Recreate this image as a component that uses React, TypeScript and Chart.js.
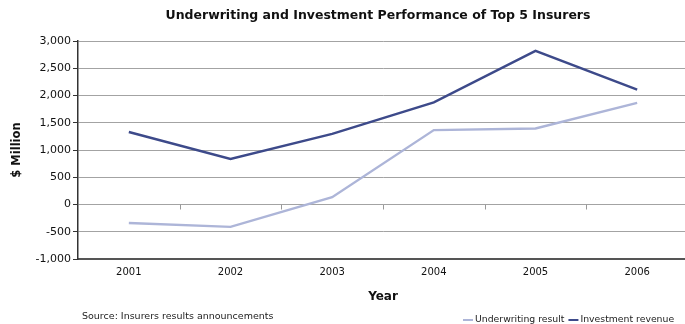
import React, { useEffect, useRef } from 'react';
import { Chart, registerables } from 'chart.js';

Chart.register(...registerables);

const years = ['2001', '2002', '2003', '2004', '2005', '2006'];
const underwritingResult = [-340, -410, 135, 1365, 1395, 1865];
const investmentRevenue = [1330, 835, 1295, 1875, 2820, 2110];
const yMin = -1000;
const yMax = 3000;
const yStep = 500;

const titleText = 'Underwriting and Investment Performance of Top 5 Insurers';
const yTitleText = '$ Million';
const xTitleText = 'Year';
const sourceText = 'Source: Insurers results announcements';

const FONT = '"DejaVu Sans", "Liberation Sans", Arial, sans-serif';
const C_INV = '#3d4a8a';
const C_UW = '#adb5d8';

const overlay = {
  id: 'overlay',
  beforeDatasetsDraw(chart: any) {
    const { ctx, scales } = chart;
    const x = scales.x;
    const y = scales.y;
    const y0 = y.getPixelForValue(0);
    const n = years.length;
    const step = (x.getPixelForTick(n - 1) - x.getPixelForTick(0)) / (n - 1);
    ctx.save();
    ctx.strokeStyle = '#999';
    ctx.lineWidth = 1;
    for (let i = 1; i <= n; i++) {
      const px = Math.round(x.getPixelForTick(i - 1) + step / 2) + 0.5;
      ctx.beginPath();
      ctx.moveTo(px, y0);
      ctx.lineTo(px, y0 + 5);
      ctx.stroke();
    }
    ctx.restore();
  },
  afterDraw(chart: any) {
    const { ctx, chartArea, scales } = chart;
    ctx.save();
    ctx.fillStyle = '#111';
    // Title
    ctx.font = `bold 12.5px ${FONT}`;
    ctx.textAlign = 'center';
    ctx.textBaseline = 'middle';
    ctx.fillText(titleText, 378, 16);
    // Y title
    ctx.save();
    ctx.translate(17, (chartArea.top + chartArea.bottom) / 2);
    ctx.rotate(-Math.PI / 2);
    ctx.font = `bold 11.5px ${FONT}`;
    ctx.fillText(yTitleText, 0, 0);
    ctx.restore();
    // X title
    ctx.font = `bold 12px ${FONT}`;
    ctx.fillText(xTitleText, (scales.x.left + scales.x.right) / 2, 297);
    // Source
    ctx.font = `9.5px ${FONT}`;
    ctx.textAlign = 'left';
    ctx.fillStyle = '#222';
    ctx.fillText(sourceText, 82, 317);
    // Legend
    ctx.font = `9.3px ${FONT}`;
    let lx = 463;
    const ly = 320;
    chart.data.datasets.forEach((ds: any) => {
      ctx.strokeStyle = ds.borderColor;
      ctx.lineWidth = 2;
      ctx.beginPath();
      ctx.moveTo(lx, ly);
      ctx.lineTo(lx + 10, ly);
      ctx.stroke();
      ctx.fillStyle = '#222';
      ctx.fillText(ds.label, lx + 12, ly - 0.5);
      lx += 12 + ctx.measureText(ds.label).width + 4;
    });
    ctx.restore();
  },
};

export default function App() {
  const ref = useRef<HTMLCanvasElement | null>(null);
  useEffect(() => {
    if (!ref.current) return;
    const chart = new Chart(ref.current, {
      type: 'line',
      data: {
        labels: years,
        datasets: [
          {
            label: 'Underwriting result',
            data: underwritingResult,
            borderColor: C_UW,
            backgroundColor: C_UW,
            borderWidth: 2.4,
            pointRadius: 0,
            tension: 0,
          },
          {
            label: 'Investment revenue',
            data: investmentRevenue,
            borderColor: C_INV,
            backgroundColor: C_INV,
            borderWidth: 2.4,
            pointRadius: 0,
            tension: 0,
          },
        ],
      },
      options: {
        responsive: false,
        animation: false,
        layout: { padding: { left: 0, top: 41, right: 12, bottom: 0 } },
        plugins: { legend: { display: false }, title: { display: false }, tooltip: { enabled: false } },
        scales: {
          x: {
            type: 'category',
            offset: true,
            grid: { display: true, drawOnChartArea: false, drawTicks: false },
            border: { display: true, color: '#555', width: 2 },
            ticks: { color: '#111', font: { family: FONT, size: 10 }, padding: 7, maxRotation: 0 },
            afterFit: (s: any) => { s.height = 65; },
          },
          y: {
            min: yMin,
            max: yMax,
            ticks: {
              stepSize: yStep,
              color: '#111',
              font: { family: FONT, size: 11 },
              padding: 2,
              callback: (v: any) => Number(v).toLocaleString('en-US'),
            },
            grid: { color: '#a3a3a3', lineWidth: 1, tickLength: 5, tickColor: '#333' },
            border: { display: true, color: '#333', width: 1.5 },
            afterFit: (s: any) => { s.width = 78; },
          },
        },
      },
      plugins: [overlay],
    });
    return () => chart.destroy();
  }, []);
  return (
    <div style={{ position: 'fixed', left: 0, top: 0, width: 685, height: 324, overflow: 'hidden', background: '#fff' }}>
      <canvas ref={ref} width={700} height={324} style={{ display: 'block' }} />
    </div>
  );
}
